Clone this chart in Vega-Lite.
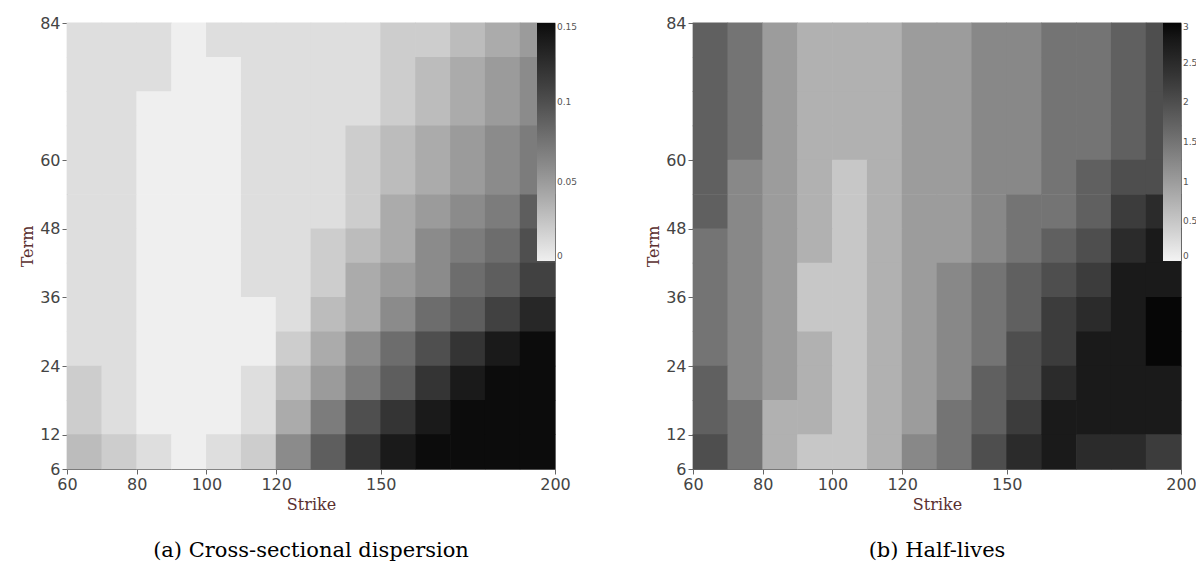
{
  "$schema": "https://vega.github.io/schema/vega-lite/v6.json",
  "background": "white",
  "padding": {"left": 19, "top": 14, "right": 12, "bottom": 5},
  "spacing": 66,
  "config": {
    "view": {"stroke": "#888"},
    "axis": {"labelFont": "DejaVu Sans", "labelFontSize": 16, "labelColor": "#444", "tickColor": "#666", "domainColor": "#666", "grid": false, "titleFont": "DejaVu Serif", "titleFontSize": 16, "titleFontWeight": "normal", "titleColor": "#5a3030"},
    "legend": {"labelFontSize": 9, "labelColor": "#555", "gradientLength": 238, "gradientThickness": 18, "labelFont": "DejaVu Sans"}
  },
  "datasets": {
    "a": [
      {"x":60,"y":78,"v":0.01},{"x":70,"y":78,"v":0.01},{"x":80,"y":78,"v":0.01},{"x":90,"y":78,"v":0},{"x":100,"y":78,"v":0.01},{"x":110,"y":78,"v":0.01},{"x":120,"y":78,"v":0.01},{"x":130,"y":78,"v":0.01},{"x":140,"y":78,"v":0.01},{"x":150,"y":78,"v":0.02},{"x":160,"y":78,"v":0.02},{"x":170,"y":78,"v":0.03},{"x":180,"y":78,"v":0.04},{"x":190,"y":78,"v":0.05},
      {"x":60,"y":72,"v":0.01},{"x":70,"y":72,"v":0.01},{"x":80,"y":72,"v":0.01},{"x":90,"y":72,"v":0},{"x":100,"y":72,"v":0},{"x":110,"y":72,"v":0.01},{"x":120,"y":72,"v":0.01},{"x":130,"y":72,"v":0.01},{"x":140,"y":72,"v":0.01},{"x":150,"y":72,"v":0.02},{"x":160,"y":72,"v":0.03},{"x":170,"y":72,"v":0.04},{"x":180,"y":72,"v":0.05},{"x":190,"y":72,"v":0.06},
      {"x":60,"y":66,"v":0.01},{"x":70,"y":66,"v":0.01},{"x":80,"y":66,"v":0},{"x":90,"y":66,"v":0},{"x":100,"y":66,"v":0},{"x":110,"y":66,"v":0.01},{"x":120,"y":66,"v":0.01},{"x":130,"y":66,"v":0.01},{"x":140,"y":66,"v":0.01},{"x":150,"y":66,"v":0.02},{"x":160,"y":66,"v":0.03},{"x":170,"y":66,"v":0.04},{"x":180,"y":66,"v":0.05},{"x":190,"y":66,"v":0.06},
      {"x":60,"y":60,"v":0.01},{"x":70,"y":60,"v":0.01},{"x":80,"y":60,"v":0},{"x":90,"y":60,"v":0},{"x":100,"y":60,"v":0},{"x":110,"y":60,"v":0.01},{"x":120,"y":60,"v":0.01},{"x":130,"y":60,"v":0.01},{"x":140,"y":60,"v":0.02},{"x":150,"y":60,"v":0.03},{"x":160,"y":60,"v":0.04},{"x":170,"y":60,"v":0.05},{"x":180,"y":60,"v":0.06},{"x":190,"y":60,"v":0.07},
      {"x":60,"y":54,"v":0.01},{"x":70,"y":54,"v":0.01},{"x":80,"y":54,"v":0},{"x":90,"y":54,"v":0},{"x":100,"y":54,"v":0},{"x":110,"y":54,"v":0.01},{"x":120,"y":54,"v":0.01},{"x":130,"y":54,"v":0.01},{"x":140,"y":54,"v":0.02},{"x":150,"y":54,"v":0.03},{"x":160,"y":54,"v":0.04},{"x":170,"y":54,"v":0.05},{"x":180,"y":54,"v":0.06},{"x":190,"y":54,"v":0.07},
      {"x":60,"y":48,"v":0.01},{"x":70,"y":48,"v":0.01},{"x":80,"y":48,"v":0},{"x":90,"y":48,"v":0},{"x":100,"y":48,"v":0},{"x":110,"y":48,"v":0.01},{"x":120,"y":48,"v":0.01},{"x":130,"y":48,"v":0.01},{"x":140,"y":48,"v":0.02},{"x":150,"y":48,"v":0.04},{"x":160,"y":48,"v":0.05},{"x":170,"y":48,"v":0.06},{"x":180,"y":48,"v":0.07},{"x":190,"y":48,"v":0.09},
      {"x":60,"y":42,"v":0.01},{"x":70,"y":42,"v":0.01},{"x":80,"y":42,"v":0},{"x":90,"y":42,"v":0},{"x":100,"y":42,"v":0},{"x":110,"y":42,"v":0.01},{"x":120,"y":42,"v":0.01},{"x":130,"y":42,"v":0.02},{"x":140,"y":42,"v":0.03},{"x":150,"y":42,"v":0.04},{"x":160,"y":42,"v":0.06},{"x":170,"y":42,"v":0.07},{"x":180,"y":42,"v":0.08},{"x":190,"y":42,"v":0.10},
      {"x":60,"y":36,"v":0.01},{"x":70,"y":36,"v":0.01},{"x":80,"y":36,"v":0},{"x":90,"y":36,"v":0},{"x":100,"y":36,"v":0},{"x":110,"y":36,"v":0.01},{"x":120,"y":36,"v":0.01},{"x":130,"y":36,"v":0.02},{"x":140,"y":36,"v":0.04},{"x":150,"y":36,"v":0.05},{"x":160,"y":36,"v":0.06},{"x":170,"y":36,"v":0.08},{"x":180,"y":36,"v":0.09},{"x":190,"y":36,"v":0.11},
      {"x":60,"y":30,"v":0.01},{"x":70,"y":30,"v":0.01},{"x":80,"y":30,"v":0},{"x":90,"y":30,"v":0},{"x":100,"y":30,"v":0},{"x":110,"y":30,"v":0},{"x":120,"y":30,"v":0.01},{"x":130,"y":30,"v":0.03},{"x":140,"y":30,"v":0.04},{"x":150,"y":30,"v":0.06},{"x":160,"y":30,"v":0.08},{"x":170,"y":30,"v":0.09},{"x":180,"y":30,"v":0.11},{"x":190,"y":30,"v":0.13},
      {"x":60,"y":24,"v":0.01},{"x":70,"y":24,"v":0.01},{"x":80,"y":24,"v":0},{"x":90,"y":24,"v":0},{"x":100,"y":24,"v":0},{"x":110,"y":24,"v":0},{"x":120,"y":24,"v":0.02},{"x":130,"y":24,"v":0.04},{"x":140,"y":24,"v":0.06},{"x":150,"y":24,"v":0.08},{"x":160,"y":24,"v":0.10},{"x":170,"y":24,"v":0.12},{"x":180,"y":24,"v":0.14},{"x":190,"y":24,"v":0.15},
      {"x":60,"y":18,"v":0.02},{"x":70,"y":18,"v":0.01},{"x":80,"y":18,"v":0},{"x":90,"y":18,"v":0},{"x":100,"y":18,"v":0},{"x":110,"y":18,"v":0.01},{"x":120,"y":18,"v":0.03},{"x":130,"y":18,"v":0.05},{"x":140,"y":18,"v":0.07},{"x":150,"y":18,"v":0.09},{"x":160,"y":18,"v":0.12},{"x":170,"y":18,"v":0.14},{"x":180,"y":18,"v":0.15},{"x":190,"y":18,"v":0.15},
      {"x":60,"y":12,"v":0.02},{"x":70,"y":12,"v":0.01},{"x":80,"y":12,"v":0},{"x":90,"y":12,"v":0},{"x":100,"y":12,"v":0},{"x":110,"y":12,"v":0.01},{"x":120,"y":12,"v":0.04},{"x":130,"y":12,"v":0.07},{"x":140,"y":12,"v":0.10},{"x":150,"y":12,"v":0.12},{"x":160,"y":12,"v":0.14},{"x":170,"y":12,"v":0.15},{"x":180,"y":12,"v":0.15},{"x":190,"y":12,"v":0.15},
      {"x":60,"y":6,"v":0.03},{"x":70,"y":6,"v":0.02},{"x":80,"y":6,"v":0.01},{"x":90,"y":6,"v":0},{"x":100,"y":6,"v":0.01},{"x":110,"y":6,"v":0.02},{"x":120,"y":6,"v":0.06},{"x":130,"y":6,"v":0.09},{"x":140,"y":6,"v":0.12},{"x":150,"y":6,"v":0.14},{"x":160,"y":6,"v":0.15},{"x":170,"y":6,"v":0.15},{"x":180,"y":6,"v":0.15},{"x":190,"y":6,"v":0.15}
    ],
    "b": [
      {"x":60,"y":78,"v":1.75},{"x":70,"y":78,"v":1.5},{"x":80,"y":78,"v":1.0},{"x":90,"y":78,"v":0.75},{"x":100,"y":78,"v":0.75},{"x":110,"y":78,"v":0.75},{"x":120,"y":78,"v":1.0},{"x":130,"y":78,"v":1.0},{"x":140,"y":78,"v":1.25},{"x":150,"y":78,"v":1.25},{"x":160,"y":78,"v":1.5},{"x":170,"y":78,"v":1.5},{"x":180,"y":78,"v":1.75},{"x":190,"y":78,"v":2.0},
      {"x":60,"y":72,"v":1.75},{"x":70,"y":72,"v":1.5},{"x":80,"y":72,"v":1.0},{"x":90,"y":72,"v":0.75},{"x":100,"y":72,"v":0.75},{"x":110,"y":72,"v":0.75},{"x":120,"y":72,"v":1.0},{"x":130,"y":72,"v":1.0},{"x":140,"y":72,"v":1.25},{"x":150,"y":72,"v":1.25},{"x":160,"y":72,"v":1.5},{"x":170,"y":72,"v":1.5},{"x":180,"y":72,"v":1.75},{"x":190,"y":72,"v":2.0},
      {"x":60,"y":66,"v":1.75},{"x":70,"y":66,"v":1.5},{"x":80,"y":66,"v":1.0},{"x":90,"y":66,"v":0.75},{"x":100,"y":66,"v":0.75},{"x":110,"y":66,"v":0.75},{"x":120,"y":66,"v":1.0},{"x":130,"y":66,"v":1.0},{"x":140,"y":66,"v":1.25},{"x":150,"y":66,"v":1.25},{"x":160,"y":66,"v":1.5},{"x":170,"y":66,"v":1.5},{"x":180,"y":66,"v":1.75},{"x":190,"y":66,"v":2.0},
      {"x":60,"y":60,"v":1.75},{"x":70,"y":60,"v":1.5},{"x":80,"y":60,"v":1.0},{"x":90,"y":60,"v":0.75},{"x":100,"y":60,"v":0.75},{"x":110,"y":60,"v":0.75},{"x":120,"y":60,"v":1.0},{"x":130,"y":60,"v":1.0},{"x":140,"y":60,"v":1.25},{"x":150,"y":60,"v":1.25},{"x":160,"y":60,"v":1.5},{"x":170,"y":60,"v":1.5},{"x":180,"y":60,"v":1.75},{"x":190,"y":60,"v":2.0},
      {"x":60,"y":54,"v":1.75},{"x":70,"y":54,"v":1.25},{"x":80,"y":54,"v":1.0},{"x":90,"y":54,"v":0.75},{"x":100,"y":54,"v":0.5},{"x":110,"y":54,"v":0.75},{"x":120,"y":54,"v":1.0},{"x":130,"y":54,"v":1.0},{"x":140,"y":54,"v":1.25},{"x":150,"y":54,"v":1.25},{"x":160,"y":54,"v":1.5},{"x":170,"y":54,"v":1.75},{"x":180,"y":54,"v":2.0},{"x":190,"y":54,"v":2.0},
      {"x":60,"y":48,"v":1.75},{"x":70,"y":48,"v":1.25},{"x":80,"y":48,"v":1.0},{"x":90,"y":48,"v":0.75},{"x":100,"y":48,"v":0.5},{"x":110,"y":48,"v":0.75},{"x":120,"y":48,"v":1.0},{"x":130,"y":48,"v":1.0},{"x":140,"y":48,"v":1.25},{"x":150,"y":48,"v":1.5},{"x":160,"y":48,"v":1.5},{"x":170,"y":48,"v":1.75},{"x":180,"y":48,"v":2.25},{"x":190,"y":48,"v":2.5},
      {"x":60,"y":42,"v":1.5},{"x":70,"y":42,"v":1.25},{"x":80,"y":42,"v":1.0},{"x":90,"y":42,"v":0.75},{"x":100,"y":42,"v":0.5},{"x":110,"y":42,"v":0.75},{"x":120,"y":42,"v":1.0},{"x":130,"y":42,"v":1.0},{"x":140,"y":42,"v":1.25},{"x":150,"y":42,"v":1.5},{"x":160,"y":42,"v":1.75},{"x":170,"y":42,"v":2.0},{"x":180,"y":42,"v":2.5},{"x":190,"y":42,"v":2.75},
      {"x":60,"y":36,"v":1.5},{"x":70,"y":36,"v":1.25},{"x":80,"y":36,"v":1.0},{"x":90,"y":36,"v":0.5},{"x":100,"y":36,"v":0.5},{"x":110,"y":36,"v":0.75},{"x":120,"y":36,"v":1.0},{"x":130,"y":36,"v":1.25},{"x":140,"y":36,"v":1.5},{"x":150,"y":36,"v":1.75},{"x":160,"y":36,"v":2.0},{"x":170,"y":36,"v":2.25},{"x":180,"y":36,"v":2.75},{"x":190,"y":36,"v":2.75},
      {"x":60,"y":30,"v":1.5},{"x":70,"y":30,"v":1.25},{"x":80,"y":30,"v":1.0},{"x":90,"y":30,"v":0.5},{"x":100,"y":30,"v":0.5},{"x":110,"y":30,"v":0.75},{"x":120,"y":30,"v":1.0},{"x":130,"y":30,"v":1.25},{"x":140,"y":30,"v":1.5},{"x":150,"y":30,"v":1.75},{"x":160,"y":30,"v":2.25},{"x":170,"y":30,"v":2.5},{"x":180,"y":30,"v":2.75},{"x":190,"y":30,"v":3.0},
      {"x":60,"y":24,"v":1.5},{"x":70,"y":24,"v":1.25},{"x":80,"y":24,"v":1.0},{"x":90,"y":24,"v":0.75},{"x":100,"y":24,"v":0.5},{"x":110,"y":24,"v":0.75},{"x":120,"y":24,"v":1.0},{"x":130,"y":24,"v":1.25},{"x":140,"y":24,"v":1.5},{"x":150,"y":24,"v":2.0},{"x":160,"y":24,"v":2.25},{"x":170,"y":24,"v":2.75},{"x":180,"y":24,"v":2.75},{"x":190,"y":24,"v":3.0},
      {"x":60,"y":18,"v":1.75},{"x":70,"y":18,"v":1.25},{"x":80,"y":18,"v":1.0},{"x":90,"y":18,"v":0.75},{"x":100,"y":18,"v":0.5},{"x":110,"y":18,"v":0.75},{"x":120,"y":18,"v":1.0},{"x":130,"y":18,"v":1.25},{"x":140,"y":18,"v":1.75},{"x":150,"y":18,"v":2.0},{"x":160,"y":18,"v":2.5},{"x":170,"y":18,"v":2.75},{"x":180,"y":18,"v":2.75},{"x":190,"y":18,"v":2.75},
      {"x":60,"y":12,"v":1.75},{"x":70,"y":12,"v":1.5},{"x":80,"y":12,"v":0.75},{"x":90,"y":12,"v":0.75},{"x":100,"y":12,"v":0.5},{"x":110,"y":12,"v":0.75},{"x":120,"y":12,"v":1.0},{"x":130,"y":12,"v":1.5},{"x":140,"y":12,"v":1.75},{"x":150,"y":12,"v":2.25},{"x":160,"y":12,"v":2.75},{"x":170,"y":12,"v":2.75},{"x":180,"y":12,"v":2.75},{"x":190,"y":12,"v":2.75},
      {"x":60,"y":6,"v":2.0},{"x":70,"y":6,"v":1.5},{"x":80,"y":6,"v":0.75},{"x":90,"y":6,"v":0.5},{"x":100,"y":6,"v":0.5},{"x":110,"y":6,"v":0.75},{"x":120,"y":6,"v":1.25},{"x":130,"y":6,"v":1.5},{"x":140,"y":6,"v":2.0},{"x":150,"y":6,"v":2.5},{"x":160,"y":6,"v":2.75},{"x":170,"y":6,"v":2.5},{"x":180,"y":6,"v":2.5},{"x":190,"y":6,"v":2.25}
    ]
  },
  "resolve": {"scale": {"color": "independent"}, "legend": {"color": "independent"}},
  "hconcat": [
    {
      "width": 488, "height": 446,
      "data": {"name": "a"},
      "title": {"text": "(a) Cross-sectional dispersion", "orient": "bottom", "font": "DejaVu Serif", "fontSize": 21, "fontWeight": "normal", "offset": 28},
      "mark": {"type": "rect", "width": 35.5, "height": 35, "xOffset": 17.4, "yOffset": -17.2},
      "encoding": {
        "x": {"field": "x", "type": "quantitative", "scale": {"domain": [60, 200], "nice": false}, "axis": {"values": [60, 80, 100, 120, 150, 200], "title": "Strike", "labelFlush": false}},
        "y": {"field": "y", "type": "quantitative", "scale": {"domain": [6, 84], "nice": false}, "axis": {"values": [6, 12, 24, 36, 48, 60, 84], "title": "Term", "labelFlush": false}},
        "color": {"field": "v", "type": "quantitative", "scale": {"domain": [0, 0.15], "range": ["#efefef", "#0c0c0c"]}, "legend": {"orient": "none", "legendX": 470, "legendY": 0, "title": null, "values": [0, 0.05, 0.1, 0.15], "format": ".2~f"}}
      }
    },
    {
      "width": 488, "height": 446,
      "data": {"name": "b"},
      "title": {"text": "(b) Half-lives", "orient": "bottom", "font": "DejaVu Serif", "fontSize": 21, "fontWeight": "normal", "offset": 28},
      "mark": {"type": "rect", "width": 35.5, "height": 35, "xOffset": 17.4, "yOffset": -17.2},
      "encoding": {
        "x": {"field": "x", "type": "quantitative", "scale": {"domain": [60, 200], "nice": false}, "axis": {"values": [60, 80, 100, 120, 150, 200], "title": "Strike", "labelFlush": false}},
        "y": {"field": "y", "type": "quantitative", "scale": {"domain": [6, 84], "nice": false}, "axis": {"values": [6, 12, 24, 36, 48, 60, 84], "title": "Term", "labelFlush": false}},
        "color": {"field": "v", "type": "quantitative", "scale": {"domain": [0, 3], "range": ["#f3f3f3", "#060606"]}, "legend": {"orient": "none", "legendX": 470, "legendY": 0, "title": null, "values": [0, 0.5, 1, 1.5, 2, 2.5, 3], "format": ".2~f"}}
      }
    }
  ]
}
